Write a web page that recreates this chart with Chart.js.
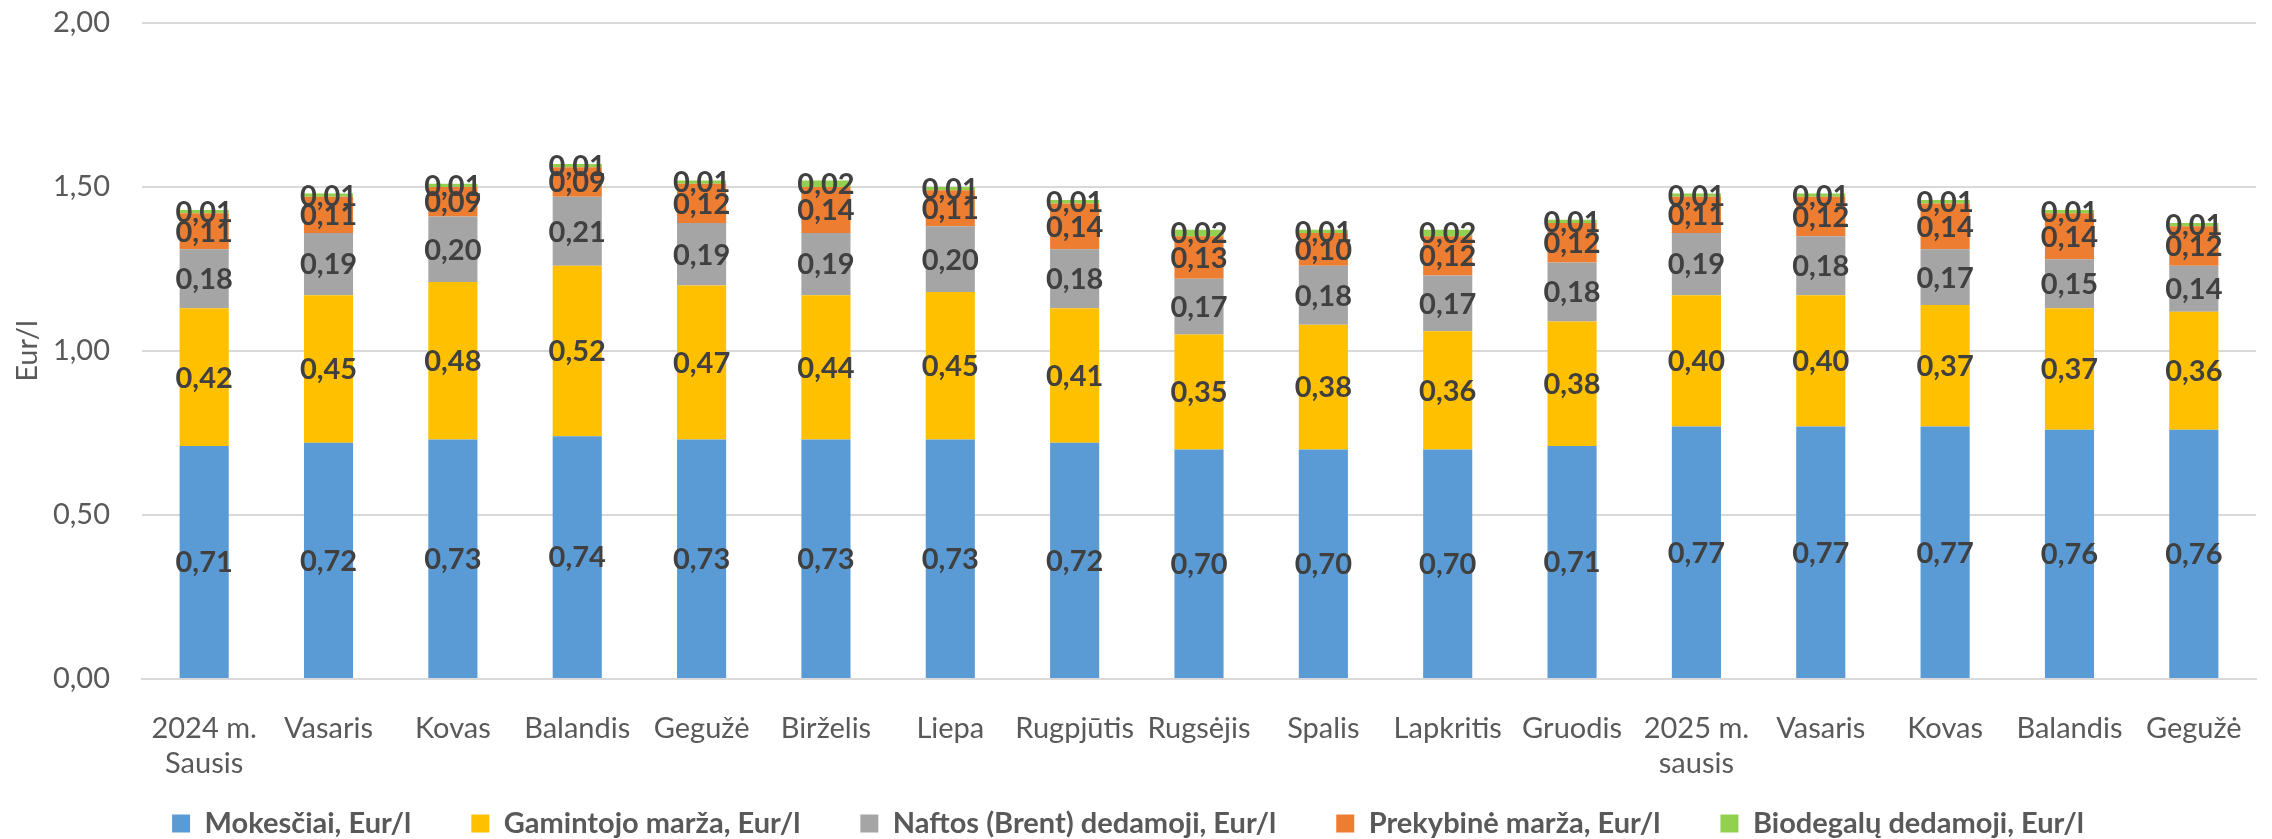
<!DOCTYPE html>
<html>
<head>
<meta charset="utf-8">
<script src="https://cdn.jsdelivr.net/npm/chart.js@4/dist/chart.umd.min.js"></script>
<style>
  html, body { margin:0; padding:0; background:#fff; overflow:hidden; }
  #wrap { width:2272px; height:839px; }
</style>
</head>
<body>
<div id="wrap"><canvas id="chart" width="2272" height="839"></canvas></div>
<script>
// --- data ---
const months = [["2024 m.","Sausis"],"Vasaris","Kovas","Balandis","Gegužė","Birželis","Liepa","Rugpjūtis","Rugsėjis","Spalis","Lapkritis","Gruodis",["2025 m.","sausis"],"Vasaris","Kovas","Balandis","Gegužė"];
const mokesciai = [0.71,0.72,0.73,0.74,0.73,0.73,0.73,0.72,0.70,0.70,0.70,0.71,0.77,0.77,0.77,0.76,0.76];
const gamintojo = [0.42,0.45,0.48,0.52,0.47,0.44,0.45,0.41,0.35,0.38,0.36,0.38,0.40,0.40,0.37,0.37,0.36];
const naftos    = [0.18,0.19,0.20,0.21,0.19,0.19,0.20,0.18,0.17,0.18,0.17,0.18,0.19,0.18,0.17,0.15,0.14];
const prekybine = [0.11,0.11,0.09,0.09,0.12,0.14,0.11,0.14,0.13,0.10,0.12,0.12,0.11,0.12,0.14,0.14,0.12];
const biodegalu = [0.01,0.01,0.01,0.01,0.01,0.02,0.01,0.01,0.02,0.01,0.02,0.01,0.01,0.01,0.01,0.01,0.01];
const seriesNames = ["Mokesčiai, Eur/l","Gamintojo marža, Eur/l","Naftos (Brent) dedamoji, Eur/l","Prekybinė marža, Eur/l","Biodegalų dedamoji, Eur/l"];
const yTicks = [0,0.5,1,1.5,2];

const colors = ["#5B9BD5","#FFC000","#A5A5A5","#ED7D31","#92D050"];
const FONT = "Lato";
const fmt = v => v.toFixed(2).replace(".",",");

const segLabels = {
  id:"segLabels",
  afterLayout(chart){
    // wide legend spacing -> pull the legend box up so the row sits near the bottom
    chart.legend.top -= 40;
  },
  // value labels centred in each segment
  afterDatasetsDraw(chart){
    const ctx = chart.ctx;
    ctx.save();
    ctx.font = `bold 29px ${FONT}`;
    ctx.fillStyle = "#404040";
    ctx.textAlign = "center";
    ctx.textBaseline = "middle";
    chart.data.datasets.forEach((ds,di)=>{
      chart.getDatasetMeta(di).data.forEach((el,i)=>{
        const p = el.getProps(["x","y","base"],true);
        ctx.fillText(fmt(ds.data[i]), p.x, (p.y+p.base)/2 + 1);
      });
    });
    ctx.restore();
  }
};

const allData = [mokesciai,gamintojo,naftos,prekybine,biodegalu];

new Chart(document.getElementById("chart"),{
  type:"bar",
  data:{
    labels:months,
    datasets:allData.map((d,i)=>({
      label:seriesNames[i], data:d, backgroundColor:colors[i],
      categoryPercentage:1, barPercentage:0.395
    }))
  },
  options:{
    responsive:false, animation:false,
    layout:{padding:{top:23,right:16,left:0,bottom:0}},
    plugins:{
      tooltip:{enabled:false},
      legend:{
        position:"bottom", maxHeight:50,
        labels:{
          font:{family:FONT,size:29,weight:"bold"}, color:"#595959",
          boxWidth:18, boxHeight:18, padding:60
        }
      }
    },
    scales:{
      x:{
        stacked:true,
        grid:{display:false},
        border:{display:true,color:"#D9D9D9",width:2},
        ticks:{font:{family:FONT,size:29},color:"#595959",padding:24,maxRotation:0,autoSkip:false},
        afterFit:s=>{ s.height = 110; }
      },
      y:{
        stacked:true, min:0, max:2,
        afterBuildTicks:s=>{ s.ticks = yTicks.map(v=>({value:v})); },
        grid:{color:"#D9D9D9",lineWidth:2,drawTicks:true,tickLength:32,tickColor:"rgba(0,0,0,0)"},
        border:{display:false},
        ticks:{font:{family:FONT,size:29},color:"#595959",padding:0,callback:v=>fmt(v)},
        title:{display:true,text:"Eur/l",font:{family:FONT,size:29},color:"#595959",padding:{top:10,bottom:0}},
        afterFit:s=>{ s.width = 142; }
      }
    }
  },
  plugins:[segLabels]
});
</script>
</body>
</html>
